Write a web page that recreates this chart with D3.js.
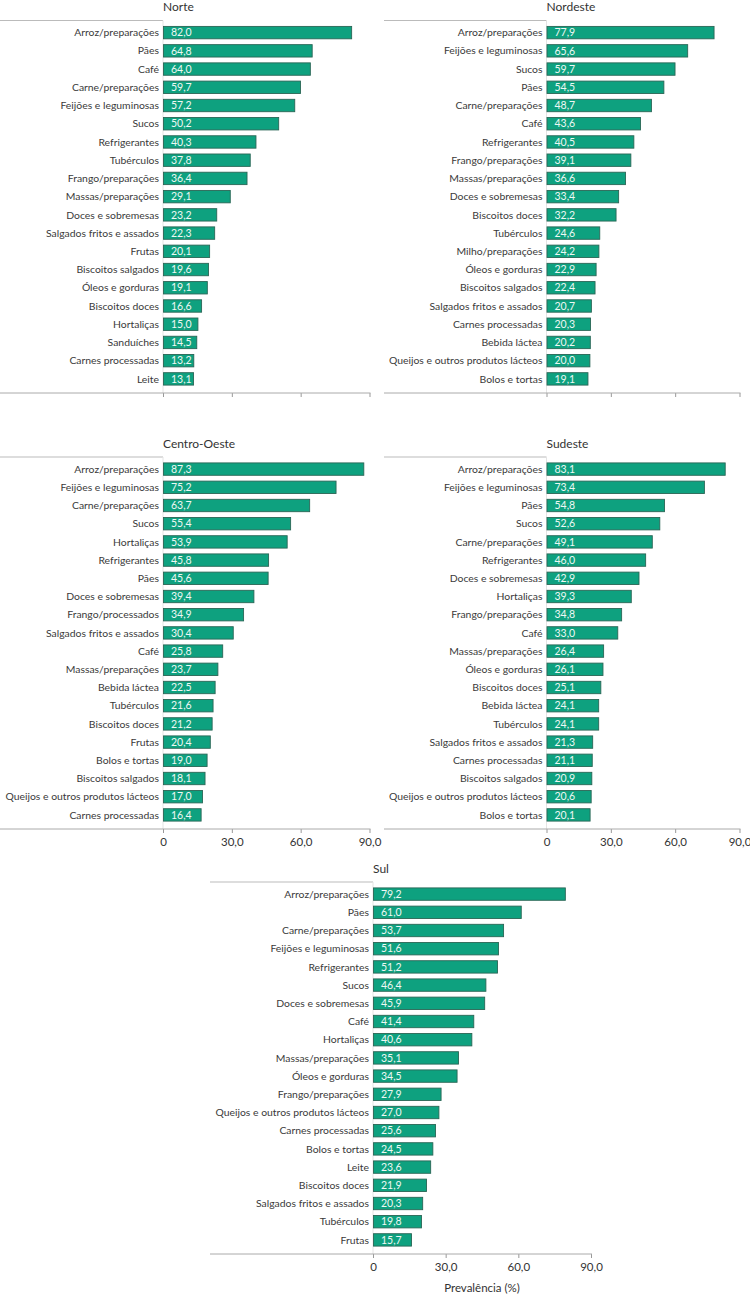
<!DOCTYPE html>
<html>
<head>
<meta charset="utf-8">
<script src="https://cdn.jsdelivr.net/npm/d3@7"></script>
<style>
  html, body { margin: 0; padding: 0; background: #fff; }
  svg { display: block; }
  text { font-family: Lato, "Open Sans", sans-serif; }
</style>
</head>
<body>
<div id="chart"></div>
<script>
// ---- Data ----
const ticks = [0, 30, 60, 90];
const tickLabels = ["0", "30,0", "60,0", "90,0"];
const axisTitle = "Prevalência (%)";

const norteCats = ["Arroz/preparações","Pães","Café","Carne/preparações","Feijões e leguminosas","Sucos","Refrigerantes","Tubérculos","Frango/preparações","Massas/preparações","Doces e sobremesas","Salgados fritos e assados","Frutas","Biscoitos salgados","Óleos e gorduras","Biscoitos doces","Hortaliças","Sanduíches","Carnes processadas","Leite"];
const norteVals = [82.0,64.8,64.0,59.7,57.2,50.2,40.3,37.8,36.4,29.1,23.2,22.3,20.1,19.6,19.1,16.6,15.0,14.5,13.2,13.1];

const nordesteCats = ["Arroz/preparações","Feijões e leguminosas","Sucos","Pães","Carne/preparações","Café","Refrigerantes","Frango/preparações","Massas/preparações","Doces e sobremesas","Biscoitos doces","Tubérculos","Milho/preparações","Óleos e gorduras","Biscoitos salgados","Salgados fritos e assados","Carnes processadas","Bebida láctea","Queijos e outros produtos lácteos","Bolos e tortas"];
const nordesteVals = [77.9,65.6,59.7,54.5,48.7,43.6,40.5,39.1,36.6,33.4,32.2,24.6,24.2,22.9,22.4,20.7,20.3,20.2,20.0,19.1];

const centroCats = ["Arroz/preparações","Feijões e leguminosas","Carne/preparações","Sucos","Hortaliças","Refrigerantes","Pães","Doces e sobremesas","Frango/processados","Salgados fritos e assados","Café","Massas/preparações","Bebida láctea","Tubérculos","Biscoitos doces","Frutas","Bolos e tortas","Biscoitos salgados","Queijos e outros produtos lácteos","Carnes processadas"];
const centroVals = [87.3,75.2,63.7,55.4,53.9,45.8,45.6,39.4,34.9,30.4,25.8,23.7,22.5,21.6,21.2,20.4,19.0,18.1,17.0,16.4];

const sudesteCats = ["Arroz/preparações","Feijões e leguminosas","Pães","Sucos","Carne/preparações","Refrigerantes","Doces e sobremesas","Hortaliças","Frango/preparações","Café","Massas/preparações","Óleos e gorduras","Biscoitos doces","Bebida láctea","Tubérculos","Salgados fritos e assados","Carnes processadas","Biscoitos salgados","Queijos e outros produtos lácteos","Bolos e tortas"];
const sudesteVals = [83.1,73.4,54.8,52.6,49.1,46.0,42.9,39.3,34.8,33.0,26.4,26.1,25.1,24.1,24.1,21.3,21.1,20.9,20.6,20.1];

const sulCats = ["Arroz/preparações","Pães","Carne/preparações","Feijões e leguminosas","Refrigerantes","Sucos","Doces e sobremesas","Café","Hortaliças","Massas/preparações","Óleos e gorduras","Frango/preparações","Queijos e outros produtos lácteos","Carnes processadas","Bolos e tortas","Leite","Biscoitos doces","Salgados fritos e assados","Tubérculos","Frutas"];
const sulVals = [79.2,61.0,53.7,51.6,51.2,46.4,45.9,41.4,40.6,35.1,34.5,27.9,27.0,25.6,24.5,23.6,21.9,20.3,19.8,15.7];

// ---- Layout ----
const W = 750, H = 1295;
const panels = [
  {title:"Norte", cats:norteCats, vals:norteVals, left:0, x0:163, x1:369.5, top:20.5, bottom:393, tickLabels:false, axisTitle:false},
  {title:"Nordeste", cats:nordesteCats, vals:nordesteVals, left:384, x0:546.5, x1:739.5, top:20.5, bottom:393, tickLabels:false, axisTitle:false},
  {title:"Centro-Oeste", cats:centroCats, vals:centroVals, left:0, x0:163, x1:369.5, top:457, bottom:829, tickLabels:true, axisTitle:false},
  {title:"Sudeste", cats:sudesteCats, vals:sudesteVals, left:384, x0:546.5, x1:739.5, top:457, bottom:829, tickLabels:true, axisTitle:false},
  {title:"Sul", cats:sulCats, vals:sulVals, left:210, x0:373, x1:591, top:882, bottom:1254, tickLabels:true, axisTitle:true}
];

const fmt = v => d3.format(".1f")(v).replace(".", ",");

const svg = d3.select("#chart").append("svg").attr("width", W).attr("height", H);

panels.forEach(p => {
  const g = svg.append("g");
  const x = d3.scaleLinear().domain([0, 90]).range([p.x0, p.x1]);
  const y = d3.scaleBand().domain(p.cats).range([p.top + 3, p.bottom - 5]).paddingInner(0.32).paddingOuter(0.16);

  // title
  g.append("text").attr("x", p.x0).attr("y", p.top - 9.5)
    .attr("font-size", 12).attr("fill", "#333").text(p.title);

  // top line (category axis extent)
  g.append("line").attr("x1", p.left).attr("x2", p.x0).attr("y1", p.top).attr("y2", p.top)
    .attr("stroke", "#bbb").attr("stroke-width", 1);

  // faint vertical zero line
  g.append("line").attr("x1", p.x0).attr("x2", p.x0).attr("y1", p.top).attr("y2", p.bottom)
    .attr("stroke", "#e4e4e4").attr("stroke-width", 1);

  // bars
  const rows = p.cats.map((c, i) => ({cat: c, val: p.vals[i]}));
  g.selectAll("rect.bar").data(rows).join("rect").attr("class", "bar")
    .attr("x", x(0) + 0.5)
    .attr("y", d => y(d.cat))
    .attr("width", d => x(d.val) - x(0))
    .attr("height", y.bandwidth())
    .attr("fill", "#0ea17f")
    .attr("stroke", "#2a6656")
    .attr("stroke-width", 0.9);

  // value labels
  g.selectAll("text.val").data(rows).join("text").attr("class", "val")
    .attr("x", x(0) + 8)
    .attr("y", d => y(d.cat) + y.bandwidth() / 2)
    .attr("dy", "0.35em")
    .attr("font-size", 10.5).attr("fill", "#eef8f4")
    .text(d => fmt(d.val));

  // category labels
  g.selectAll("text.cat").data(rows).join("text").attr("class", "cat")
    .attr("x", x(0) - 4)
    .attr("y", d => y(d.cat) + y.bandwidth() / 2)
    .attr("dy", "0.35em")
    .attr("text-anchor", "end")
    .attr("font-size", 10.4).attr("fill", "#3a3a3a")
    .text(d => d.cat);

  // bottom axis
  const axis = d3.axisBottom(x).tickValues(ticks).tickSize(4)
    .tickFormat((d, i) => p.tickLabels ? tickLabels[i] : "");
  const ag = g.append("g").attr("transform", `translate(0,${p.bottom})`).call(axis);
  ag.select(".domain").remove();
  ag.selectAll(".tick line").attr("stroke", "#999");
  ag.selectAll(".tick text").attr("font-family", "Lato, 'Open Sans', sans-serif")
    .attr("font-size", 11.5).attr("fill", "#333").attr("dy", "0.9em");
  g.append("line").attr("x1", p.left).attr("x2", p.x1 + 1).attr("y1", p.bottom).attr("y2", p.bottom)
    .attr("stroke", "#aaa").attr("stroke-width", 1);

  if (p.axisTitle) {
    g.append("text").attr("x", (p.x0 + p.x1) / 2).attr("y", p.bottom + 38)
      .attr("text-anchor", "middle").attr("font-size", 11.5).attr("fill", "#333")
      .text(axisTitle);
  }
});
</script>
</body>
</html>
